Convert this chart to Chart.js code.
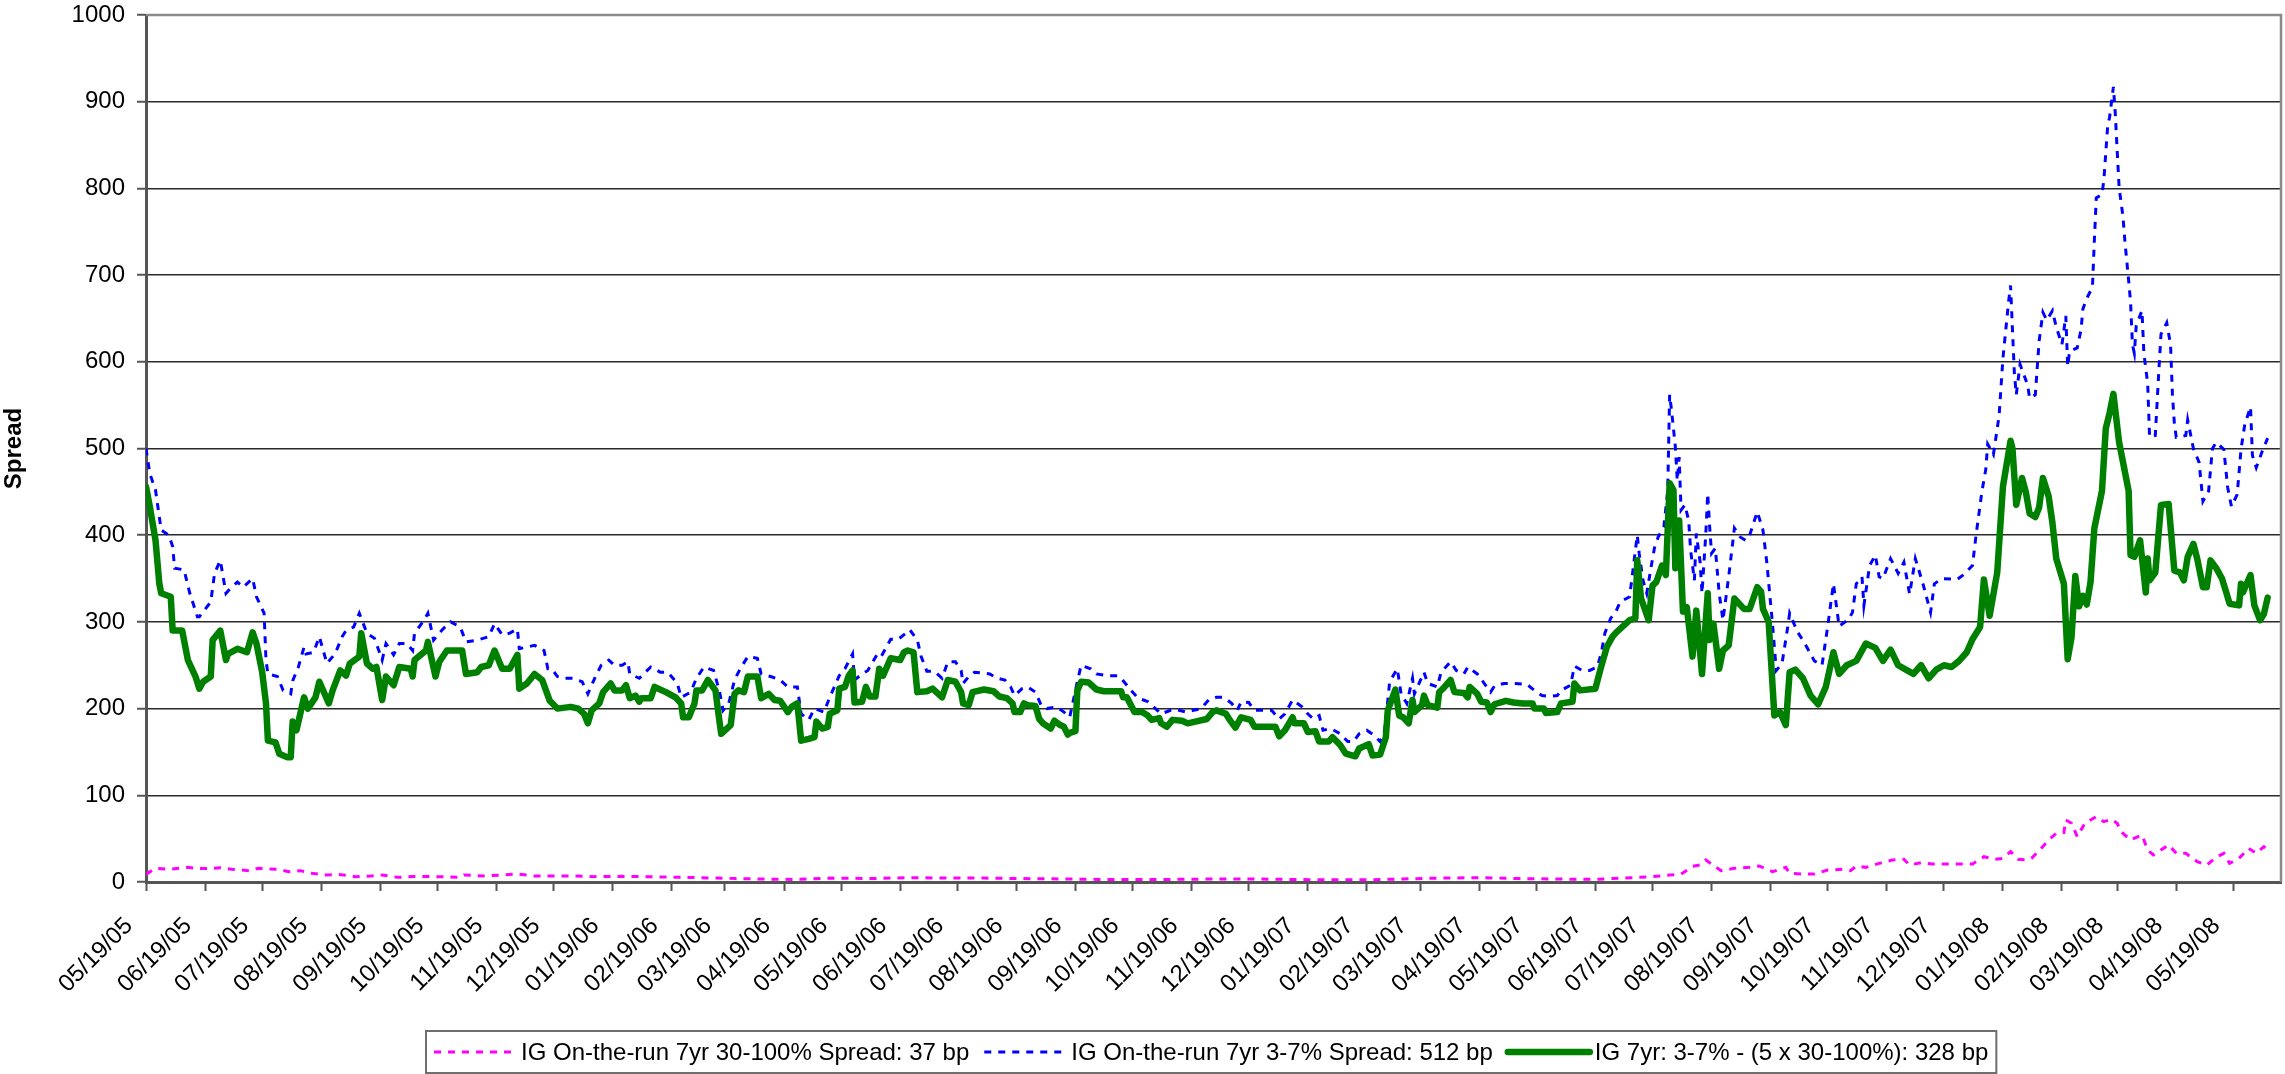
<!DOCTYPE html>
<html>
<head>
<meta charset="utf-8">
<script src="https://cdn.jsdelivr.net/npm/chart.js@4"></script>
<style>
  html, body { margin: 0; padding: 0; background: #fff; }
  canvas { display: block; }
</style>
</head>
<body>
<canvas id="chart" width="2285" height="1074"></canvas>
<script>
// Day offsets are counted from 05/19/05, the first observation.
const START = Date.UTC(2005, 4, 19);
const DAY_MS = 86400000;

const tickLabels = [
  "05/19/05","06/19/05","07/19/05","08/19/05","09/19/05","10/19/05","11/19/05","12/19/05",
  "01/19/06","02/19/06","03/19/06","04/19/06","05/19/06","06/19/06","07/19/06","08/19/06",
  "09/19/06","10/19/06","11/19/06","12/19/06","01/19/07","02/19/07","03/19/07","04/19/07",
  "05/19/07","06/19/07","07/19/07","08/19/07","09/19/07","10/19/07","11/19/07","12/19/07",
  "01/19/08","02/19/08","03/19/08","04/19/08","05/19/08"
];
const yTicks = [0, 100, 200, 300, 400, 500, 600, 700, 800, 900, 1000];

const seriesNames = [
  "IG On-the-run 7yr 30-100% Spread: 37 bp",
  "IG On-the-run 7yr 3-7% Spread: 512 bp",
  "IG 7yr: 3-7% - (5 x 30-100%): 328 bp"
];

// 30-100% tranche spread (bp)
const seniorDays = [0,5,12,22,26,33,39,45,54,59,69,75,81,87,95,101,110,118,124,132,140,152,165,167,178,195,204,224,236,
  250,280,300,320,340,360,380,400,420,440,460,480,500,520,540,560,580,600,620,640,660,680,700,720,740,760,770,780,790,800,806,812,
  816,819,824,827,834,842,847,854,861,863,870,876,883,891,895,898,903,910,917,923,926,932,938,946,953,959,965,971,975,979,983,987,990,
  994,999,1003,1007,1008,1011,1014,1018,1024,1028,1032,1035,1037,1042,1048,1051,1054,1062,1066,1071,1077,1082,1087,1091,1094,1099,
  1104,1108,1112,1114];
const seniorSpread = [8.8,15.8,14.6,16.9,15.8,15.4,16.5,14.6,13.1,15.8,14.6,11.9,13.1,10,8.1,8.8,6.2,6.9,8.1,5.4,6.2,6.2,5.4,8.1,6.9,9.2,6.9,6.9,6.2,
  6.5,5.5,4.5,3.5,3,4.5,4,5,4.5,4.5,4,3.5,3,3,3,3.5,3.5,3,2.5,2.5,3.5,4.5,5,4,3.5,3,4,5,6,8,9,18,
  19.6,25.4,17.7,13.1,15.8,16.9,18.5,11.9,16.9,10,9.2,9.2,13.8,14.6,13.1,18.5,16.9,21.5,25.4,26.2,19.6,22.3,20.8,20.8,20.8,20.8,29.2,26.2,27.3,35,26.2,25.4,27.3,
  36.2,48.5,56.2,56.9,71.5,67.7,52.3,67.7,75.4,69.6,72.3,67.7,58.1,48.5,54.2,36.9,31.2,42.7,33.1,33.1,23.5,19.6,28.5,33.1,21.5,27.3,
  38.8,33.1,40.8,37];

// 3-7% tranche spread (bp)
const mezzDays = [0,2,5,7,8,12,14,15,20,23,27,28,34,36,39,42,44,48,51,56,58,62,63,64,69,72,76,77,80,83,84,88,91,95,98,100,103,105,109,112,
  116,120,124,126,130,133,137,140,141,146,148,151,154,156,160,165,168,174,180,183,187,191,195,196,200,204,209,211,213,216,219,224,229,232,
  236,239,243,246,250,253,254,259,265,270,274,279,281,286,289,293,298,301,303,306,309,312,316,321,323,328,333,337,342,344,348,351,356,359,
  364,367,371,372,376,379,384,386,391,395,399,401,405,407,410,414,418,421,425,428,429,432,435,439,443,447,451,454,456,460,463,467,470,473,
  478,482,485,489,491,496,499,505,510,512,515,518,521,526,529,533,538,541,546,550,554,558,562,566,570,573,575,579,582,587,591,595,598,602,
  607,610,613,616,618,622,627,631,634,637,641,645,648,650,651,653,657,659,662,665,666,671,673,678,680,685,688,692,694,699,703,706,708,713,
  718,725,729,733,737,741,743,748,750,754,758,762,764,766,769,772,774,779,783,784,786,788,790,792,794,797,799,800,801,803,804,805,806,808,
  810,811,813,814,816,817,819,820,821,822,824,826,828,831,834,837,840,842,846,849,851,854,856,859,862,863,867,871,876,880,883,886,889,894,
  896,898,901,902,905,908,910,912,916,920,923,926,929,933,937,939,943,951,954,959,961,964,966,967,970,973,975,978,979,981,982,984,988,989,
  992,994,996,998,1001,1003,1006,1008,1009,1010,1014,1016,1017,1019,1022,1023,1024,1027,1028,1030,1031,1033,1034,1035,1036,1038,1039,1041,
  1042,1043,1044,1045,1048,1049,1051,1052,1055,1057,1058,1061,1063,1064,1065,1066,1071,1072,1075,1078,1080,1083,1085,1087,1091,1093,1095,
  1098,1100,1102,1105,1106,1108,1111,1114];
const mezzSpread = [500,471,452,421,406,400,387,362,360,333,306,306,323,356,371,333,338,346,340,350,329,310,256,240,237,221,217,232,248,271,263,265,283,252,260,267,283,290,294,310,
  287,281,256,275,262,275,275,267,287,302,310,279,287,292,300,294,277,279,283,298,285,287,292,269,271,273,267,246,246,237,235,235,231,217,
  237,250,256,250,250,254,240,235,248,242,242,229,213,219,235,248,244,221,198,206,233,246,260,258,240,237,233,225,225,194,187,200,196,213,
  238,246,263,233,240,244,263,260,280,280,287,291,279,260,243,243,235,254,254,244,229,237,242,241,240,235,233,225,215,223,225,219,204,200,
  202,196,190,231,250,246,240,238,238,235,227,219,212,208,202,194,198,199,196,198,200,210,213,213,206,198,208,207,198,198,198,188,194,210,
  202,194,188,192,175,177,171,162,162,171,175,169,162,171,187,231,246,217,206,235,217,242,229,225,242,254,244,240,248,240,228,219,226,229,
  229,228,221,215,214,215,221,227,249,244,244,248,263,287,304,313,323,329,400,379,348,333,360,385,398,410,452,562,544,502,463,490,429,435,
  417,383,348,402,369,333,402,448,410,379,385,333,302,352,408,398,394,400,427,406,369,298,244,252,294,310,289,275,255,250,295,344,295,303,
  311,344,352,319,365,377,352,350,373,356,369,332,373,344,311,344,350,349,354,365,402,451,476,505,493,538,604,670,688,587,562,597,573,558,
  562,624,657,648,659,640,620,653,595,612,616,637,661,673,686,740,789,793,810,872,882,917,886,843,801,768,740,694,
  669,620,610,642,659,610,575,513,515,595,632,645,620,562,529,513,515,533,500,484,439,451,500,507,499,455,433,
  447,499,528,548,492,478,496,512];

// 3-7% minus 5 x 30-100% (bp)
const netDays = [0,2,5,7,8,13,14,19,22,26,28,30,34,35,39,42,43,48,53,56,58,61,63,64,68,70,74,76,77,79,83,85,89,91,96,98,102,105,107,112,113,
  116,119,121,124,126,130,133,139,140,141,147,148,152,154,158,166,168,174,176,180,183,187,191,195,196,200,204,208,212,216,223,227,230,232,
  234,238,240,244,246,250,252,254,257,259,260,265,267,273,278,281,282,285,288,289,292,295,299,301,302,307,309,311,314,316,321,323,327,330,
  333,337,339,342,344,348,351,352,355,358,359,363,364,367,369,371,372,376,378,380,383,385,387,391,396,398,400,403,405,410,413,418,421,425,
  428,429,432,434,440,445,448,452,455,456,459,461,463,467,469,471,475,477,480,482,484,485,488,489,491,495,499,503,512,513,515,519,523,526,
  528,532,533,536,539,544,547,551,557,560,562,567,569,572,575,580,582,593,595,598,602,603,608,610,614,616,621,623,627,630,635,637,642,644,
  648,651,652,656,658,660,663,665,666,670,671,673,678,679,681,685,687,692,694,695,699,701,704,706,708,714,718,723,728,729,734,735,741,743,
  749,750,753,761,764,767,770,772,776,779,782,783,785,789,791,793,796,798,800,802,803,805,807,809,812,814,817,820,821,823,826,828,831,834,
  839,842,846,848,849,852,855,858,861,863,866,870,874,878,882,886,889,893,898,903,908,912,916,920,924,928,932,936,940,944,948,952,956,959,
  963,965,968,972,975,979,980,982,985,987,989,992,994,996,999,1001,1003,1007,1009,1011,1013,1015,1017,1019,1021,1023,1027,1029,1031,1033,
  1036,1041,1042,1044,1047,1050,1051,1052,1055,1058,1062,1065,1068,1070,1072,1075,1077,1080,1082,1084,1087,1090,1092,1094,1099,1100,1101,
  1105,1107,1110,1112,1114];
const netSpread = [456,433,394,344,333,329,290,290,256,237,223,231,237,279,290,256,263,269,265,288,275,242,206,163,161,148,144,144,185,175,213,200,213,231,206,221,244,238,252,260,287,
  252,246,248,210,237,227,248,246,237,256,267,277,237,254,267,267,240,242,248,250,267,246,246,262,223,229,240,233,209,200,202,200,194,183,
  198,206,219,229,221,221,227,212,215,208,212,212,225,219,213,206,190,190,206,221,221,233,221,187,171,181,217,221,219,237,237,212,217,210,
  209,196,202,206,163,165,167,185,177,179,194,198,223,225,238,244,207,208,225,214,214,246,238,258,256,265,267,265,219,220,223,213,233,231,
  219,206,204,219,222,220,214,212,206,196,196,206,204,203,188,183,177,186,181,179,170,172,174,221,231,230,222,220,220,213,213,196,196,192,
  187,189,183,179,187,186,183,185,188,196,198,194,187,178,190,187,179,179,168,175,190,183,183,173,174,162,162,167,158,148,145,154,159,146,
  147,167,198,222,192,190,183,210,196,204,215,204,201,219,223,233,219,218,213,225,217,208,207,196,205,209,207,206,206,200,200,195,196,206,
  208,229,221,223,248,271,283,288,296,302,304,371,327,302,342,346,365,354,460,452,362,417,312,317,260,313,240,333,279,298,246,267,273,327,
  315,315,340,335,315,300,192,196,181,242,245,235,215,205,225,265,240,250,255,275,270,255,268,250,245,240,250,235,245,250,248,255,265,280,
  294,349,307,357,456,509,500,435,466,450,425,421,432,466,445,414,373,344,257,282,353,318,330,320,346,408,451,523,541,563,
  507,451,377,375,394,334,373,348,357,435,436,359,357,348,375,390,373,340,340,371,362,350,336,321,319,344,334,
  354,319,302,309,328];

const FONT = "'Liberation Sans', Arial, sans-serif";
const FONT_SIZE = 24;

function dayOf(label) {
  const [m, d, y] = label.split("/").map(Number);
  return (Date.UTC(2000 + y, m - 1, d) - START) / DAY_MS;
}
const tickDays = tickLabels.map(dayOf);
const toPoints = (days, vals) => days.map((d, i) => ({ x: d, y: vals[i] }));

// Frame on top/right of the plot area
const plotFrame = {
  id: "plotFrame",
  beforeDatasetsDraw(chart) {
    const { ctx, chartArea: a } = chart;
    ctx.save();
    ctx.strokeStyle = "#8a8a8a";
    ctx.lineWidth = 2.5;
    ctx.beginPath();
    ctx.moveTo(a.left, a.top);
    ctx.lineTo(a.right, a.top);
    ctx.lineTo(a.right, a.bottom);
    ctx.stroke();
    ctx.restore();
  }
};

// Boxed one-row legend under the axis labels
const boxLegend = {
  id: "boxLegend",
  afterDraw(chart) {
    const ctx = chart.ctx;
    ctx.save();
    ctx.font = `${FONT_SIZE}px ${FONT}`;
    const sets = chart.data.datasets;
    const sample = 82, gap = 5, sep = 15, pad = 8;
    const widths = sets.map(ds => ctx.measureText(ds.label).width);
    const total = widths.reduce((s, w) => s + sample + gap + w, 0) + sep * (sets.length - 1) + pad * 2;
    const top = 1031, h = 42, cx = 1211;
    let x = Math.round(cx - total / 2);
    ctx.strokeStyle = "#6e6e6e";
    ctx.lineWidth = 2;
    ctx.strokeRect(x, top, total, h);
    const cy = top + h / 2;
    x += pad;
    sets.forEach((ds, i) => {
      ctx.beginPath();
      ctx.setLineDash(ds.borderDash || []);
      ctx.lineWidth = ds.borderWidth;
      ctx.strokeStyle = ds.borderColor;
      ctx.lineCap = ds.borderDash ? "butt" : "round";
      ctx.moveTo(x, cy);
      ctx.lineTo(x + sample, cy);
      ctx.stroke();
      ctx.setLineDash([]);
      ctx.fillStyle = "#000";
      ctx.textBaseline = "middle";
      ctx.textAlign = "left";
      ctx.fillText(ds.label, x + sample + gap, cy + 1);
      x += sample + gap + widths[i] + sep;
    });
    ctx.restore();
  }
};

new Chart(document.getElementById("chart"), {
  type: "line",
  data: {
    datasets: [
      { label: seriesNames[0], data: toPoints(seniorDays, seniorSpread), borderColor: "#ff00ff",
        borderWidth: 3, borderDash: [7, 7], order: 3 },
      { label: seriesNames[1], data: toPoints(mezzDays, mezzSpread), borderColor: "#0000ff",
        borderWidth: 3, borderDash: [7, 7], order: 2 },
      { label: seriesNames[2], data: toPoints(netDays, netSpread), borderColor: "#008000",
        borderWidth: 6.5, borderJoinStyle: "round", borderCapStyle: "round", order: 1 }
    ]
  },
  options: {
    responsive: false,
    animation: false,
    devicePixelRatio: 1,
    events: [],
    layout: { autoPadding: false, padding: { left: 0, top: 15, right: 4, bottom: 0 } },
    elements: { point: { radius: 0 }, line: { tension: 0, fill: false } },
    plugins: { legend: { display: false }, tooltip: { enabled: false } },
    scales: {
      x: {
        type: "linear",
        min: 0,
        max: 1121,
        afterBuildTicks: s => { s.ticks = tickDays.map(v => ({ value: v })); },
        afterFit: s => { s.height = 1074 - 882; s.paddingLeft = 0; s.paddingRight = 0; },
        ticks: {
          autoSkip: false, minRotation: 45, maxRotation: 45,
          padding: 21, labelOffset: -17,
          color: "#000", font: { family: FONT, size: FONT_SIZE },
          callback: (v, i) => tickLabels[i]
        },
        grid: { drawOnChartArea: false, drawTicks: true, tickLength: 9, tickColor: "#555", tickWidth: 2 },
        border: { color: "#555", width: 3 }
      },
      y: {
        min: 0,
        max: 1000,
        afterBuildTicks: s => { s.ticks = yTicks.map(v => ({ value: v })); },
        afterFit: s => { s.width = 146; s.paddingTop = 0; s.paddingBottom = 0; },
        ticks: { padding: 12, color: "#000", font: { family: FONT, size: FONT_SIZE },
          callback: v => String(v) },
        grid: { color: "#2a2a2a", lineWidth: 1.5, drawTicks: true, tickLength: 9, tickColor: "#555", tickWidth: 2 },
        border: { color: "#555", width: 3 },
        title: { display: true, text: "Spread", color: "#000", padding: 0,
          font: { family: FONT, size: FONT_SIZE, weight: "bold" } }
      }
    }
  },
  plugins: [plotFrame, boxLegend]
});
</script>
</body>
</html>
